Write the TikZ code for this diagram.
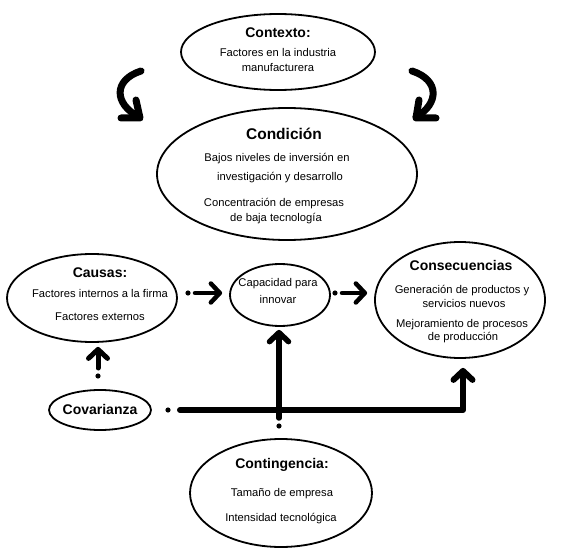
\documentclass[tikz,border=0pt]{standalone}
\usepackage{fontspec}
\setmainfont{Liberation Sans}
\usetikzlibrary{positioning}
\usetikzlibrary{shapes.geometric}
\usetikzlibrary{arrows.meta}

\tikzset
  {
    myEllipse/.style=  {ellipse, draw, line width=1.8pt, inner sep=0pt},
    myTitle/.style=    {anchor=base, inner sep=0pt, font=\fontsize{14}{16}\selectfont\bfseries},
    myText/.style=     {anchor=base, inner sep=0pt, font=\fontsize{11.2}{13}\selectfont},
    myArrow/.style=    {line width=4.5pt, line cap=round, line join=round, -{Straight Barb[length=9pt, width=19pt, round]}},
    myDot/.style=      {black},
    myCurl/.style=     {line width=7pt, line cap=round, line join=round}
  }

\begin{document}
\begin{tikzpicture}[x=1pt, y=-1pt]

\useasboundingbox (0,0) rectangle (563,559);

% ellipses
\node[myEllipse, minimum width=194pt, minimum height=76pt] (ctx) at (278,52) {};
\node[myEllipse, minimum width=260pt, minimum height=132pt] (cond) at (287,174) {};
\node[myEllipse, minimum width=170pt, minimum height=88pt] (cau) at (92,298) {};
\node[myEllipse, minimum width=100pt, minimum height=62pt] (cap) at (280,295) {};
\node[myEllipse, minimum width=170pt, minimum height=116pt] (cons) at (460,300) {};
\node[myEllipse, minimum width=102pt, minimum height=40pt] (cov) at (100,410) {};
\node[myEllipse, minimum width=182pt, minimum height=108pt] (cont) at (281,493) {};

% texts
\node[myTitle] (ctxTitle) at (278,38) {Contexto:};
\node[myText] (ctxA) at (278,57) {Factores en la industria};
\node[myText] (ctxB) at (278,72) {manufacturera};

\node[myTitle, font=\fontsize{15.5}{18}\selectfont\bfseries] (condTitle) at (284,140) {Condición};
\node[myText] (condA) at (277,162) {Bajos niveles de inversión en};
\node[myText] (condB) at (280,181) {investigación y desarrollo};
\node[myText] (condC) at (274,207) {Concentración de empresas};
\node[myText] (condD) at (276,222) {de baja tecnología};

\node[myTitle] (cauTitle) at (100,277) {Causas:};
\node[myText] (cauA) at (100,298) {Factores internos a la firma};
\node[myText] (cauB) at (100,320) {Factores externos};

\node[myText] (capA) at (278,287) {Capacidad para};
\node[myText] (capB) at (278,304) {innovar};

\node[myTitle] (consTitle) at (461,270) {Consecuencias};
\node[myText] (consA) at (462,294) {Generación de productos y};
\node[myText] (consB) at (464,307) {servicios nuevos};
\node[myText] (consC) at (462,327) {Mejoramiento de procesos};
\node[myText] (consD) at (463,341) {de producción};

\node[myTitle] (covTitle) at (100,414) {Covarianza};

\node[myTitle] (contTitle) at (282,468) {Contingencia:};
\node[myText] (contA) at (282,496) {Tamaño de empresa};
\node[myText] (contB) at (281,521) {Intensidad tecnológica};

% curled arrows
\draw[myCurl] (141,71) .. controls (113,80) and (114,104) .. (139,117);
\draw[myCurl] (121,118) -- (140,118) -- (136,100);

\draw[myCurl] (412,71) .. controls (440,80) and (439,104) .. (416,117);
\draw[myCurl] (436,118) -- (416,118) -- (419,100);

% dots
\coordinate (d1) at (188,293);
\coordinate (d2) at (335,293);
\coordinate (d3) at (98,376);
\coordinate (d4) at (279,426);
\coordinate (d5) at (168,410);

\foreach \d in {d1,d2,d3,d4,d5}
\fill[myDot] (\d) circle [radius=2.6pt];

% arrows
\draw[myArrow] ([xshift=7pt]d1) -- ([xshift=-7pt]cap.west |- d1);
\draw[myArrow] ([xshift=7pt]d2) -- ([xshift=-7pt]cons.west |- d2);
\draw[myArrow, line width=5pt] ([yshift=8pt]d3) -- ([yshift=-4pt]cau.south -| d3);
\draw[myArrow, line width=5.5pt] ([yshift=8pt]d4) -- ([yshift=-3pt]cap.south -| d4);
\draw[myArrow, line width=6pt] ([xshift=12pt]d5) -| ([xshift=3pt, yshift=-9pt]cons.south);

\end{tikzpicture}
\end{document}
